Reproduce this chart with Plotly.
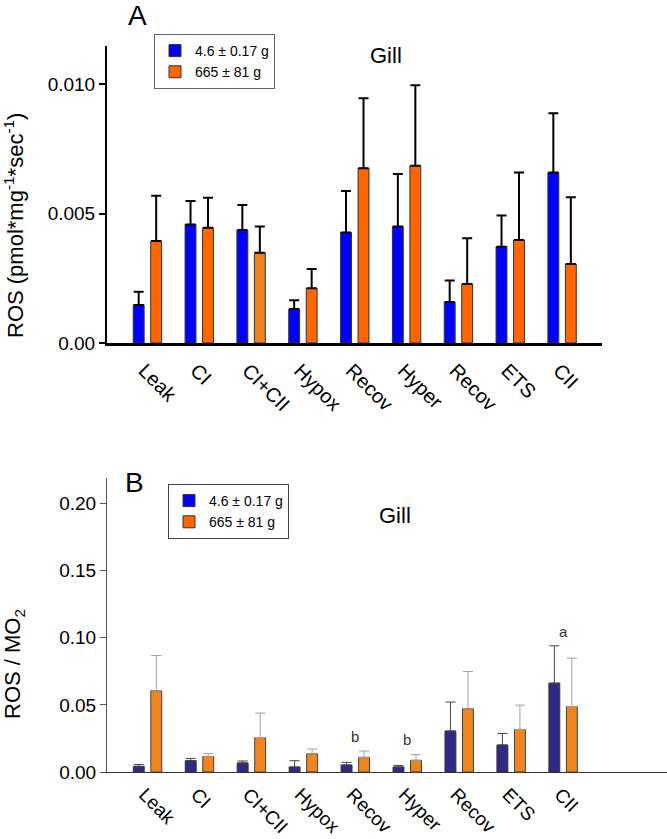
import plotly.graph_objects as go

# ---------------- data ----------------
categories = ["Leak", "CI", "CI+CII", "Hypox", "Recov", "Hyper", "Recov", "ETS", "CII"]
series_names = ["4.6 ± 0.17 g", "665 ± 81 g"]

# Panel A: ROS (pmol*mg-1*sec-1), mean and upper error
small_ros = [0.00147, 0.00458, 0.00436, 0.00131, 0.00427, 0.00450, 0.00158, 0.00372, 0.00658]
small_ros_err = [0.00051, 0.00090, 0.00097, 0.00034, 0.00160, 0.00203, 0.00083, 0.00120, 0.00229]
large_ros = [0.00394, 0.00445, 0.00349, 0.00211, 0.00675, 0.00685, 0.00228, 0.00398, 0.00305]
large_ros_err = [0.00175, 0.00116, 0.00101, 0.00075, 0.00270, 0.00310, 0.00177, 0.00260, 0.00258]

# Panel B: ROS / MO2, mean and upper error
small_ratio = [0.0042, 0.0084, 0.0067, 0.0037, 0.0052, 0.0037, 0.0305, 0.0201, 0.0662]
small_ratio_err = [0.0014, 0.0017, 0.0015, 0.0047, 0.0020, 0.0012, 0.0216, 0.0086, 0.0278]
large_ratio = [0.0605, 0.0116, 0.0257, 0.0136, 0.0109, 0.0087, 0.0471, 0.0317, 0.0488]
large_ratio_err = [0.0263, 0.0022, 0.0182, 0.0035, 0.0047, 0.0042, 0.0278, 0.0181, 0.0360]
sig_letters = ["", "", "", "", "b", "b", "", "", "a"]

ytick_vals_a = [0.0, 0.005, 0.010]
ytick_text_a = ["0.00", "0.005", "0.010"]
ytick_vals_b = [0.00, 0.05, 0.10, 0.15, 0.20]

# ---------------- style ----------------
W, H = 667, 839
FONT = "Liberation Sans, Arial, sans-serif"
BLUE_A, ORANGE_A = "#0000FF", "#FF6600"
ORANGE_A_ALT = "#F0821E"
BLUE_B, ORANGE_B = "#2F2A85", "#F0841E"
LABEL_SHIFT = -0.06  # category labels start slightly left of the group centre


def px(x):
    return x / W


def py(y):
    return 1 - y / H


xpos = list(range(len(categories)))
label_pos = [v + LABEL_SHIFT for v in xpos]
zeros = [0] * len(categories)

fig = go.Figure()

orange_a_colors = [ORANGE_A] * len(categories)
orange_a_colors[2] = ORANGE_A_ALT

# Panel A
fig.add_trace(go.Bar(
    x=xpos, y=small_ros, name=series_names[0], offsetgroup="s",
    marker=dict(color=BLUE_A, line=dict(color="#333333", width=1)),
    error_y=dict(type="data", array=small_ros_err, arrayminus=zeros, symmetric=False,
                 color="black", thickness=2, width=5),
    xaxis="x", yaxis="y", legend="legend", showlegend=True))
fig.add_trace(go.Bar(
    x=xpos, y=large_ros, name=series_names[1], offsetgroup="l",
    marker=dict(color=orange_a_colors, line=dict(color="#333333", width=1)),
    error_y=dict(type="data", array=large_ros_err, arrayminus=zeros, symmetric=False,
                 color="black", thickness=2, width=5),
    xaxis="x", yaxis="y", legend="legend", showlegend=True))

# Panel B
fig.add_trace(go.Bar(
    x=xpos, y=small_ratio, name=series_names[0], offsetgroup="s", showlegend=False,
    marker=dict(color=BLUE_B, line=dict(color="#333333", width=1)),
    error_y=dict(type="data", array=small_ratio_err, arrayminus=zeros, symmetric=False,
                 color="#444444", thickness=1, width=5),
    xaxis="x2", yaxis="y2"))
fig.add_trace(go.Bar(
    x=xpos, y=large_ratio, name=series_names[1], offsetgroup="l", showlegend=False,
    marker=dict(color=ORANGE_B, line=dict(color="#444444", width=1)),
    error_y=dict(type="data", array=large_ratio_err, arrayminus=zeros, symmetric=False,
                 color="#A0A0A0", thickness=1, width=5),
    xaxis="x2", yaxis="y2"))

# Legend entries for panel B (swatches drawn in bright colours as in the original)
fig.add_trace(go.Bar(x=[None], y=[None], name=series_names[0], xaxis="x2", yaxis="y2",
                     offsetgroup="s",
                     marker=dict(color=BLUE_A, line=dict(color="#333333", width=1)),
                     legend="legend2", showlegend=True, hoverinfo="skip"))
fig.add_trace(go.Bar(x=[None], y=[None], name=series_names[1], xaxis="x2", yaxis="y2",
                     offsetgroup="l",
                     marker=dict(color=ORANGE_A, line=dict(color="#333333", width=1)),
                     legend="legend2", showlegend=True, hoverinfo="skip"))


def label(text, x, y, size, **kw):
    d = dict(text=text, x=px(x), y=py(y), xref="paper", yref="paper", showarrow=False,
             xanchor="center", yanchor="middle",
             font=dict(size=size, color="black", family=FONT))
    d.update(kw)
    return d


annotations = [
    label("A", 137, 16, 28),
    label("Gill", 385.5, 55, 22),
    label("B", 134, 482, 28),
    label("Gill", 395, 515, 22),
    label("ROS (pmol*mg<sup>-1</sup>*sec<sup>-1</sup>)", 14, 226, 22, textangle=-90),
    label("ROS / MO<sub>2</sub>", 14, 664, 22, textangle=-90),
]
for i, letter in enumerate(sig_letters):
    if letter:
        top = max(small_ratio[i] + small_ratio_err[i], large_ratio[i] + large_ratio_err[i])
        annotations.append(dict(text=letter, x=i, y=top + 0.011, xref="x2", yref="y2",
                                showarrow=False, xanchor="center", yanchor="middle",
                                font=dict(size=15, color="#333333", family=FONT)))

xrange_a = [-0.78, 8.77]
xrange_b = [-0.78, 10.0]

fig.update_layout(
    autosize=True,
    margin=dict(l=0, r=0, t=0, b=0, autoexpand=False),
    paper_bgcolor="white", plot_bgcolor="white",
    font=dict(family=FONT, color="black", size=18),
    showlegend=True,
    barmode="group", bargap=0.325, bargroupgap=0.377,
    annotations=annotations,
    xaxis=dict(domain=[px(107), px(602)], anchor="y", range=xrange_a,
               tickvals=label_pos, ticktext=categories, tickangle=45,
               showline=True, linecolor="black", linewidth=3, ticks="",
               showgrid=False, zeroline=False, ticklabelstandoff=5,
               tickfont=dict(size=20, family=FONT, color="black")),
    yaxis=dict(domain=[py(343), py(46)], anchor="x", range=[0, 0.01147],
               tickvals=ytick_vals_a, ticktext=ytick_text_a,
               showline=True, linecolor="black", linewidth=2, ticks="outside",
               ticklen=6, tickwidth=2, tickcolor="black", showgrid=False, zeroline=False,
               tickfont=dict(size=19, family=FONT, color="black")),
    xaxis2=dict(domain=[px(107), px(667)], anchor="y2", range=xrange_b,
                tickvals=label_pos, ticktext=categories, tickangle=45,
                showline=True, linecolor="#333333", linewidth=1, ticks="",
                showgrid=False, zeroline=False, ticklabelstandoff=3,
                tickfont=dict(size=19, family=FONT, color="black")),
    yaxis2=dict(domain=[py(772), py(478)], anchor="x2", range=[0, 0.219],
                tickvals=ytick_vals_b, tickformat=".2f",
                showline=True, linecolor="#555555", linewidth=1, ticks="outside",
                ticklen=6, tickwidth=1, tickcolor="#555555", showgrid=False, zeroline=False,
                tickfont=dict(size=19, family=FONT, color="black")),
    legend=dict(x=px(154), y=py(34), xanchor="left", yanchor="top",
                bgcolor="white", bordercolor="#666666", borderwidth=1,
                font=dict(size=14, family=FONT, color="black"), traceorder="normal"),
    legend2=dict(x=px(168), y=py(484), xanchor="left", yanchor="top",
                 bgcolor="white", bordercolor="#444444", borderwidth=1,
                 font=dict(size=14, family=FONT, color="black"), traceorder="normal"),
)

fig.write_html(
    "out.html",
    config={"displayModeBar": False, "responsive": True},
    default_width="100vw",
    default_height="100vh",
    post_script=("document.documentElement.style.overflow='hidden';"
                 "document.body.style.overflow='hidden';"
                 "document.body.style.margin='0px';"),
)
